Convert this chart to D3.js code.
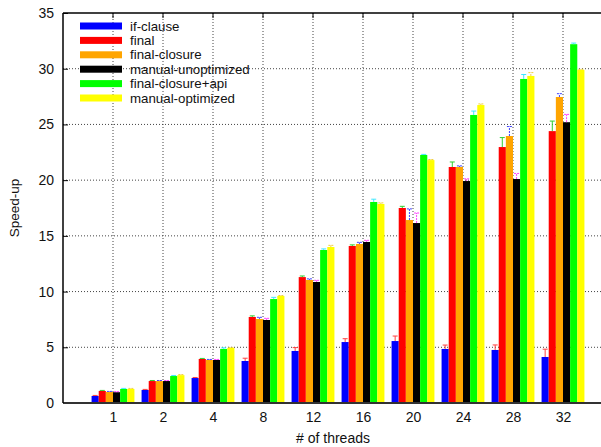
<!DOCTYPE html>
<html>
<head>
<meta charset="utf-8">
<script src="https://cdn.jsdelivr.net/npm/d3@7"></script>
<style>
body { margin: 0; background: #fff; }
svg { font-family: "Liberation Sans", Arial, sans-serif; }
</style>
</head>
<body>
<svg id="chart" width="601" height="447"></svg>
<script>
// thread counts on the x axis
var threads = ["1", "2", "4", "8", "12", "16", "20", "24", "28", "32"]
var seriesNames = ["if-clause", "final", "final-closure", "manual-unoptimized", "final-closure+api", "manual-optimized"]
var seriesColors = ["#0000ff", "#ff0000", "#ffa500", "#000000", "#00ff00", "#ffff00"]
// error bar colours (gnuplot line types)
var errColors = ["#ff4040", "#30d030", "#4040ff", "#ff40ff", "#40e8ff", "#f0d040"]
var errDashed = [false, false, true, true, false, true]

var ifClause = [0.63, 1.17, 2.24, 3.77, 4.67, 5.47, 5.56, 4.85, 4.76, 4.13]
var finalV = [1.08, 1.97, 3.95, 7.72, 11.3, 14.09, 17.5, 21.18, 22.97, 24.4]
var finalClosure = [0.99, 1.97, 3.86, 7.54, 11.04, 14.27, 16.42, 21.18, 23.96, 27.46]
var manualUnopt = [0.97, 1.97, 3.86, 7.45, 10.86, 14.45, 16.15, 19.92, 20.1, 25.2]
var finalClosureApi = [1.26, 2.42, 4.85, 9.33, 13.73, 18.04, 22.26, 25.85, 29.08, 32.2]
var manualOpt = [1.26, 2.5, 4.94, 9.6, 14.0, 17.86, 21.8, 26.74, 29.35, 29.9]

var errIf = [0.05, 0.05, 0.05, 0.25, 0.3, 0.3, 0.45, 0.35, 0.45, 0.7]
var errFinal = [0.05, 0.05, 0.05, 0.1, 0.1, 0.1, 0.15, 0.45, 0.85, 0.9]
var errClosure = [0.05, 0.05, 0.05, 0.15, 0.1, 0.15, 1.0, 0.1, 0.85, 0.3]
var errUnopt = [0.05, 0.05, 0.05, 0.15, 0.15, 0.15, 0.9, 0.2, 0.5, 0.7]
var errApi = [0.05, 0.05, 0.1, 0.15, 0.1, 0.25, 0.05, 0.35, 0.4, 0.1]
var errOpt = [0.05, 0.05, 0.05, 0.05, 0.15, 0.1, 0.05, 0.1, 0.3, 0.05]

var yTicks = [0, 5, 10, 15, 20, 25, 30, 35]

var allValues = [ifClause, finalV, finalClosure, manualUnopt, finalClosureApi, manualOpt]
var allErrors = [errIf, errFinal, errClosure, errUnopt, errApi, errOpt]

var svg = d3.select("#chart")
var plot = {left: 63, top: 13, bottom: 403, right: 613}
var fontSize = 14

var xScale = d3.scaleLinear().domain([0, 11]).range([plot.left, plot.right])
var yScale = d3.scaleLinear().domain([0, 35]).range([plot.bottom, plot.top])
var slot = (xScale(1) - xScale(0)) / 7

// grid lines (dotted)
svg.append("g").selectAll("line")
    .data(yTicks.slice(1, -1))
    .enter().append("line")
    .attr("x1", plot.left).attr("x2", plot.right)
    .attr("y1", d => yScale(d)).attr("y2", d => yScale(d))
    .attr("stroke", "#444").attr("stroke-width", 1)
    .attr("stroke-dasharray", "1,2")
svg.append("g").selectAll("line")
    .data(threads)
    .enter().append("line")
    .attr("x1", (d, i) => xScale(i + 1)).attr("x2", (d, i) => xScale(i + 1))
    .attr("y1", plot.top).attr("y2", plot.bottom)
    .attr("stroke", "#444").attr("stroke-width", 1)
    .attr("stroke-dasharray", "1,2")

// bars
for (var s = 0; s < allValues.length; s++) {
    svg.append("g").selectAll("rect")
        .data(allValues[s])
        .enter().append("rect")
        .attr("x", (d, i) => xScale(i + 1) + (s - 3) * slot)
        .attr("width", slot)
        .attr("y", d => yScale(d))
        .attr("height", d => yScale(0) - yScale(d))
        .attr("fill", seriesColors[s])
}

// error bars (upper half shows above the box)
for (var s = 0; s < allValues.length; s++) {
    var g = svg.append("g")
        .attr("stroke", errColors[s])
        .attr("stroke-width", 1)
        .attr("stroke-dasharray", errDashed[s] ? "2,1" : null)
    var vals = allValues[s], errs = allErrors[s]
    vals.forEach(function(v, i) {
        var cx = xScale(i + 1) + (s - 2.5) * slot
        g.append("line")
            .attr("x1", cx).attr("x2", cx)
            .attr("y1", yScale(v)).attr("y2", yScale(v + errs[i]))
        g.append("line")
            .attr("x1", cx - 2.5).attr("x2", cx + 2.5)
            .attr("y1", yScale(v + errs[i])).attr("y2", yScale(v + errs[i]))
    })
}

// axes
var yAxis = d3.axisLeft(yScale).tickValues(yTicks).tickSize(-5).tickPadding(9)
svg.append("g")
    .attr("transform", "translate(" + plot.left + ",0)")
    .call(yAxis)
    .call(g => g.select(".domain").remove())
    .call(g => g.selectAll("text").attr("font-size", fontSize).attr("fill", "#111").attr("font-family", "Liberation Sans, Arial"))

var xAxis = d3.axisBottom(xScale).tickValues(d3.range(1, 11)).tickFormat(d => threads[d - 1]).tickSize(0).tickPadding(9)
svg.append("g")
    .attr("transform", "translate(0," + plot.bottom + ")")
    .call(xAxis)
    .call(g => g.select(".domain").remove())
    .call(g => g.selectAll("text").attr("font-size", fontSize).attr("fill", "#111").attr("font-family", "Liberation Sans, Arial"))

// top ticks
svg.append("g").selectAll("line")
    .data(threads)
    .enter().append("line")
    .attr("x1", (d, i) => xScale(i + 1)).attr("x2", (d, i) => xScale(i + 1))
    .attr("y1", plot.top).attr("y2", plot.top + 5)
    .attr("stroke", "#000")

// frame
svg.append("line").attr("x1", plot.left).attr("x2", plot.right).attr("y1", plot.top).attr("y2", plot.top).attr("stroke", "#000").attr("stroke-width", 1.5)
svg.append("line").attr("x1", plot.left).attr("x2", plot.right).attr("y1", plot.bottom).attr("y2", plot.bottom).attr("stroke", "#333").attr("stroke-width", 2)
svg.append("line").attr("x1", plot.left).attr("x2", plot.left).attr("y1", plot.top).attr("y2", plot.bottom).attr("stroke", "#000").attr("stroke-width", 1.5)

// axis titles
svg.append("text")
    .attr("text-anchor", "middle")
    .attr("transform", "translate(19," + ((plot.top + plot.bottom) / 2) + ") rotate(-90)")
    .attr("font-size", 13.5)
    .attr("fill", "#111")
    .text("Speed-up")
svg.append("text")
    .attr("text-anchor", "middle")
    .attr("x", 333)
    .attr("y", 443)
    .attr("font-size", fontSize)
    .attr("fill", "#111")
    .text("# of threads")

// legend
var legend = svg.append("g").selectAll("g")
    .data(seriesNames)
    .enter().append("g")
    .attr("transform", (d, i) => "translate(80," + (26 + i * 14.4) + ")")
legend.append("rect")
    .attr("x", 0).attr("y", -3.5)
    .attr("width", 42).attr("height", 7)
    .attr("fill", (d, i) => seriesColors[i])
legend.append("text")
    .attr("x", 50).attr("y", 4.5)
    .attr("font-size", 13.3)
    .attr("fill", "#111")
    .text(d => d)
</script>
</body>
</html>
